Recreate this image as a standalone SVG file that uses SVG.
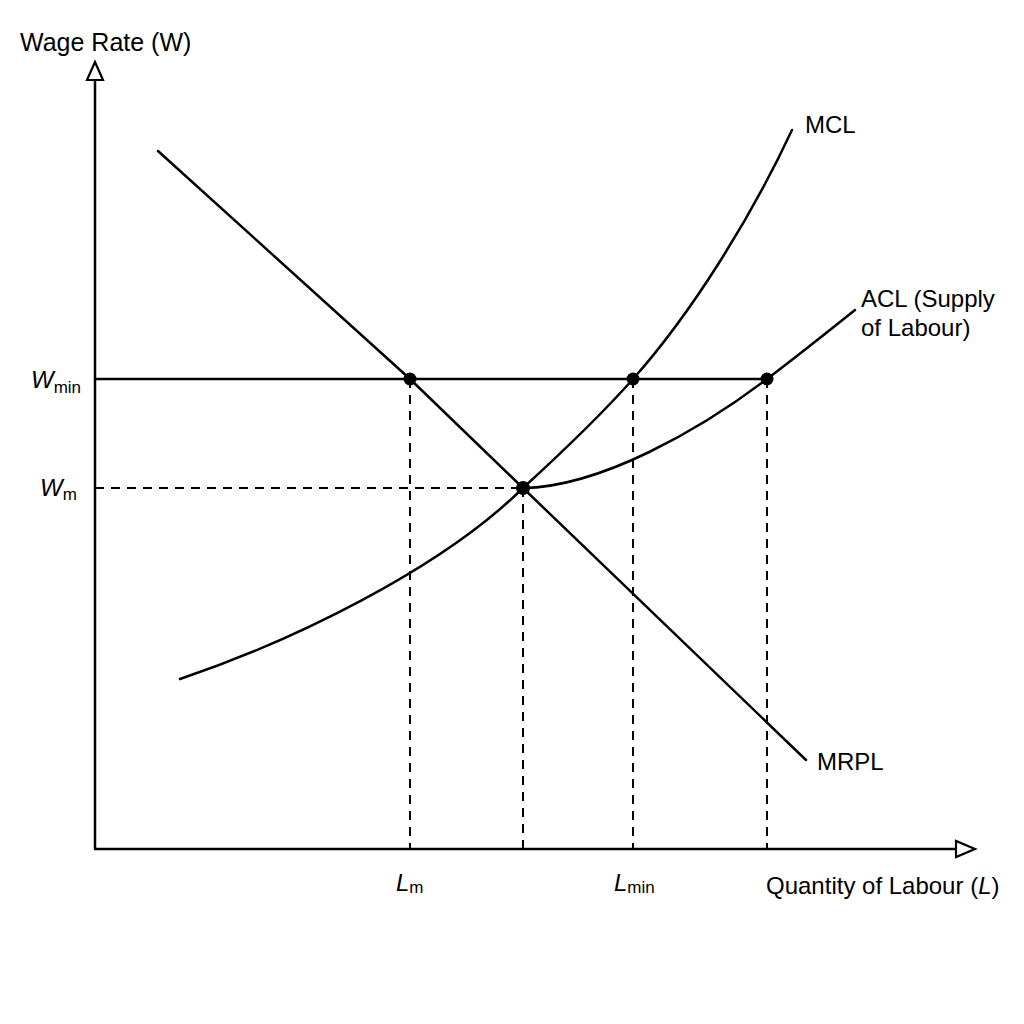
<svg xmlns="http://www.w3.org/2000/svg" width="1024" height="1024" viewBox="0 0 1024 1024">
<style>
.ax{stroke:#000;stroke-width:2.5;fill:none}
.cv{stroke:#000;stroke-width:2.5;fill:none;stroke-linecap:round}
.ds{stroke:#000;stroke-width:2;fill:none;stroke-dasharray:9 7}
.ah{fill:#fff;stroke:#000;stroke-width:2.2}
.t{font-family:"Liberation Sans",Arial,sans-serif;font-size:24px;fill:#000}
.i{font-style:italic}
.s{font-size:17px}
</style>
<rect width="1024" height="1024" fill="#fff"/>
<g id="axes">
<line class="ax" x1="95" y1="849" x2="95" y2="78"/>
<line class="ax" x1="94" y1="849" x2="957" y2="849"/>
<polygon class="ah" points="95,62 87,80 103,80"/>
<polygon class="ah" points="975,849 956,841 956,857"/>
</g>
<g id="connectors">
<line class="cv" x1="95" y1="379" x2="767" y2="379"/>
<line class="ds" x1="95" y1="488" x2="523" y2="488"/>
<line class="ds" x1="410" y1="379" x2="410" y2="849"/>
<line class="ds" x1="523" y1="488" x2="523" y2="849"/>
<line class="ds" x1="633" y1="379" x2="633" y2="849"/>
<line class="ds" x1="767" y1="379" x2="767" y2="849"/>
</g>
<g id="mrpl">
<path class="cv" d="M158,151 L410,379 L523,488 L806,760"/>
</g>
<g id="lower-curve">
<path class="cv" d="M180,679 C290,642 440,570 523,488"/>
</g>
<g id="mcl">
<path class="cv" d="M523,488 C570,445 610,405 633,379 C690,315 750,220 792,130"/>
</g>
<g id="acl">
<path class="cv" d="M523,488 C600,487 700,430 767,379 C800,354 830,330 855,310"/>
</g>
<g id="points">
<circle cx="410" cy="379" r="6.5"/>
<circle cx="633" cy="379" r="6.5"/>
<circle cx="767" cy="379" r="6.5"/>
<circle cx="523" cy="488" r="7"/>
</g>
<g id="labels">
<text class="t" x="20" y="51" style="font-size:25px">Wage Rate (W)</text>
<text class="t" x="805" y="133">MCL</text>
<text class="t" x="861" y="307">ACL (Supply</text>
<text class="t" x="861" y="336">of Labour)</text>
<text class="t" x="817" y="770">MRPL</text>
<text class="t" x="31" y="388"><tspan class="i">W</tspan><tspan class="s" dy="5">min</tspan></text>
<text class="t" x="40" y="496"><tspan class="i">W</tspan><tspan class="s" dy="4">m</tspan></text>
<text class="t" x="396" y="891"><tspan class="i">L</tspan><tspan class="s" dy="2">m</tspan></text>
<text class="t" x="614" y="891"><tspan class="i">L</tspan><tspan class="s" dy="2">min</tspan></text>
<text class="t" x="766" y="894">Quantity of Labour (<tspan class="i">L</tspan>)</text>
</g>
</svg>
